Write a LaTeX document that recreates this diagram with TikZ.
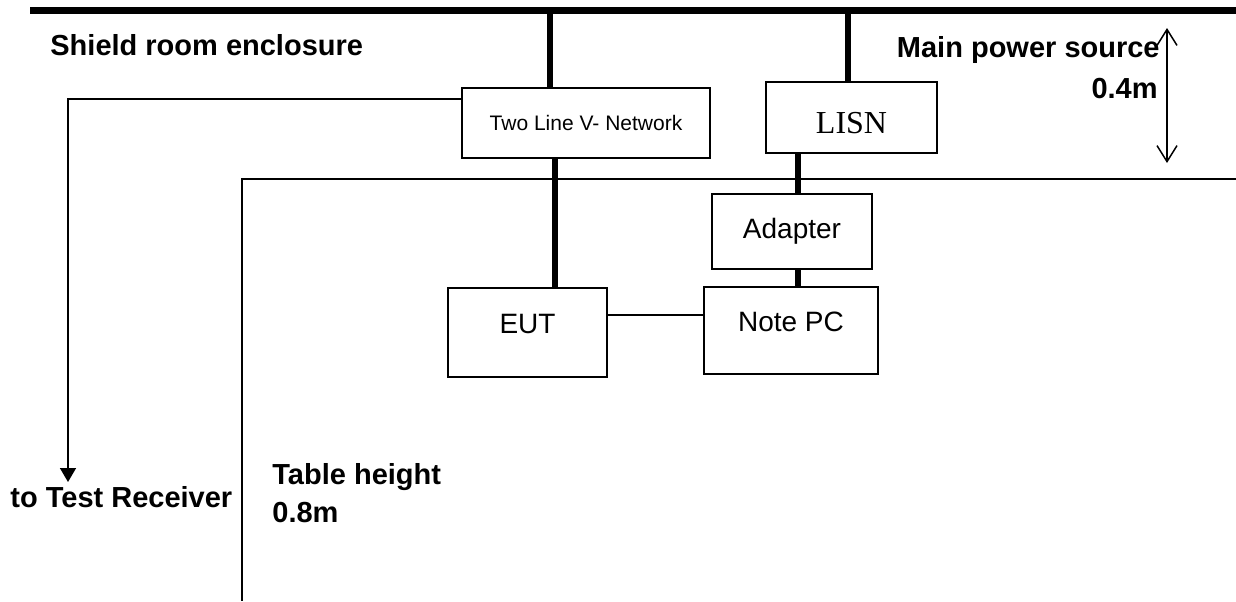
\documentclass[tikz,border=0pt]{standalone}
\usepackage{fontspec}
\setmainfont{Liberation Sans}
\newfontfamily\serifnet{Liberation Serif}
\usetikzlibrary{arrows.meta, positioning}

\begin{document}
\begin{tikzpicture}[x=0.5pt, y=-0.5pt,
    box/.style={draw, rectangle, line width=0.75pt, inner sep=0pt, font=\fontsize{14}{16}\selectfont},
    tag/.style={inner sep=0pt, font=\bfseries\fontsize{14.5}{17}\selectfont},
    power/.style={line width=3pt},
    wire/.style={line width=0.75pt},
    bar/.style={line width=3.5pt}]
    \useasboundingbox (0,0) rectangle (1236,601);

    % boxes
    \node[box, minimum width=124pt, minimum height=35pt, font=\fontsize{10.5}{12}\selectfont] (vnet) at (586,123) {Two Line V- Network};
    \node[box, minimum width=85.5pt, minimum height=35.5pt, font=\serifnet\fontsize{16}{18}\selectfont, text height=16pt] (lisn) at (851.5,117.5) {LISN};
    \node[box, minimum width=80pt, minimum height=37.5pt] (adapter) at (792,231.5) {Adapter};
    \node[box, minimum width=79.5pt, minimum height=44.5pt, text height=10pt, text depth=9pt] (eut) at (527.5,332.5) {EUT};
    \node[box, minimum width=87pt, minimum height=43.5pt, text height=10pt, text depth=9pt] (notepc) at (791,330.5) {Note PC};

    % labels
    \node[tag, anchor=base west] (shield) at (50,55) {Shield room enclosure};
    \node[tag, anchor=base east] (mains) at (1160,57) {Main power source};
    \node[tag, anchor=base east] (dist) at (1158,98) {0.4m};
    \node[tag, anchor=base west] (recv) at (10,507) {to Test Receiver};
    \node[tag, anchor=base west] (table) at (272,484) {Table height};
    \node[tag, anchor=base west] (height) at (272,522) {0.8m};

    % main power bar
    \coordinate (barL) at (30,10.5);
    \coordinate (barR) at (1236,10.5);
    \draw[bar] (barL) -- (barR);

    % power wires
    \coordinate (vtop) at (550,10.5);
    \coordinate (ltop) at (848,10.5);
    \coordinate (eutw) at (555,0);
    \coordinate (lisnw) at (798,0);
    \draw[power] (vtop) -- (vtop |- vnet.north);
    \draw[power] (ltop) -- (ltop |- lisn.north);
    \draw[power] (eutw |- vnet.south) -- (eutw |- eut.north);
    \draw[power] (lisnw |- lisn.south) -- (lisnw |- adapter.north);
    \draw[power] (lisnw |- adapter.south) -- (lisnw |- notepc.north);

    % signal lines
    \coordinate (link) at (0,315);
    \coordinate (rxline) at (0,99);
    \coordinate (rx) at (68,482);
    \draw[wire] (eut.east |- link) -- (notepc.west |- link);
    \draw[wire, -{Triangle[length=7pt, width=8pt]}] (vnet.west |- rxline) -| (rx);

    % table edge
    \coordinate (tabR) at (1236,179);
    \coordinate (tabB) at (242,601);
    \draw[wire] (tabR) -| (tabB);

    % 0.4m
    \coordinate (dimT) at (1167,28);
    \coordinate (dimB) at (1167,163);
    \draw[wire, {Straight Barb[length=8pt, width=10pt]}-{Straight Barb[length=8pt, width=10pt]}] (dimT) -- (dimB);
\end{tikzpicture}
\end{document}
